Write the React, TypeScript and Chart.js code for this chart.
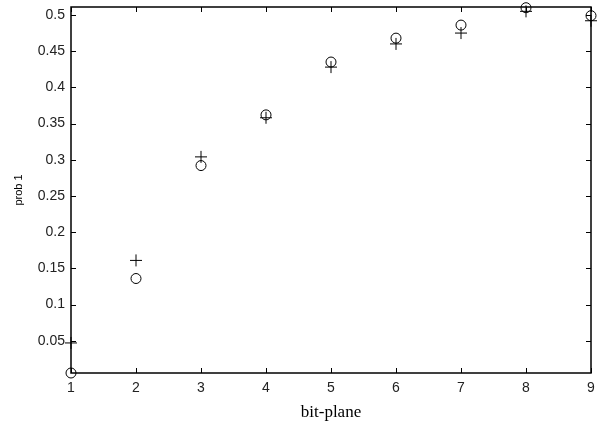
import React, { useEffect, useRef } from "react";
import { Chart, registerables } from "chart.js";

Chart.register(...registerables);

const bitPlanes = [1, 2, 3, 4, 5, 6, 7, 8, 9];
const circleValues = [0.0055, 0.136, 0.292, 0.362, 0.435, 0.468, 0.486, 0.51, 0.499];
const plusValues = [0.047, 0.161, 0.304, 0.358, 0.428, 0.46, 0.475, 0.505, 0.492];
const yTickValues = [0.05, 0.1, 0.15, 0.2, 0.25, 0.3, 0.35, 0.4, 0.45, 0.5];
const xTickValues = [1, 2, 3, 4, 5, 6, 7, 8, 9];

const tickPlugin = {
  id: "inwardTicks",
  afterDatasetsDraw(chart: any) {
    const { ctx, chartArea, scales } = chart;
    const { left, right, top, bottom } = chartArea;
    ctx.save();
    ctx.strokeStyle = "#000";
    ctx.lineWidth = 1;
    const len = 5;
    ctx.beginPath();
    xTickValues.forEach((v) => {
      const x = Math.round(scales.x.getPixelForValue(v)) + 0.5;
      ctx.moveTo(x, bottom);
      ctx.lineTo(x, bottom - len);
      ctx.moveTo(x, top);
      ctx.lineTo(x, top + len);
    });
    yTickValues.forEach((v) => {
      const y = Math.round(scales.y.getPixelForValue(v)) + 0.5;
      ctx.moveTo(left, y);
      ctx.lineTo(left + len, y);
      ctx.moveTo(right, y);
      ctx.lineTo(right - len, y);
    });
    ctx.stroke();
    ctx.lineWidth = 1.5;
    ctx.strokeRect(left, top, right - left, bottom - top);
    ctx.restore();
  },
};

export default function App() {
  const ref = useRef<HTMLCanvasElement>(null);
  useEffect(() => {
    const prevMargin = document.body.style.margin;
    document.body.style.margin = "0";
    const chart = new Chart(ref.current!, {
      type: "scatter",
      data: {
        datasets: [
          {
            label: "o",
            data: bitPlanes.map((x, i) => ({ x, y: circleValues[i] })),
            pointStyle: "circle",
            pointRadius: 5,
            borderColor: "#000",
            backgroundColor: "rgba(0,0,0,0)",
            borderWidth: 1,
            clip: false as any,
          },
          {
            label: "+",
            data: bitPlanes.map((x, i) => ({ x, y: plusValues[i] })),
            pointStyle: "cross",
            pointRadius: 6,
            borderColor: "#000",
            backgroundColor: "rgba(0,0,0,0)",
            borderWidth: 1,
            clip: false as any,
          },
        ],
      },
      plugins: [tickPlugin],
      options: {
        animation: false,
        responsive: false,
        layout: { padding: { top: 6, right: 20, left: 0, bottom: 0 } },
        plugins: { legend: { display: false }, tooltip: { enabled: false } },
        scales: {
          x: {
            type: "linear",
            min: 1,
            max: 9,
            grid: { display: false, drawTicks: false },
            border: { display: false },
            afterBuildTicks: (s: any) => {
              s.ticks = xTickValues.map((v) => ({ value: v }));
            },
            afterFit: (s: any) => {
              s.height = 50;
              s.paddingLeft = 0;
              s.paddingRight = 0;
            },
            ticks: {
              color: "#222",
              padding: 7,
              font: { family: "Liberation Sans, Arial", size: 14 },
              maxRotation: 0,
              callback: (v: any) => String(v),
            },
            title: {
              display: true,
              text: "bit-plane",
              color: "#000",
              padding: { top: 1, bottom: 0 },
              font: { family: "Liberation Serif, Times New Roman", size: 17 },
            },
          },
          y: {
            type: "linear",
            min: 0.0055,
            max: 0.511,
            grid: { display: false, drawTicks: false },
            border: { display: false },
            afterBuildTicks: (s: any) => {
              s.ticks = yTickValues.map((v) => ({ value: v }));
            },
            afterFit: (s: any) => {
              s.width = 71;
              s.paddingTop = 0;
              s.paddingBottom = 0;
            },
            ticks: {
              color: "#222",
              padding: 6,
              font: { family: "Liberation Sans, Arial", size: 14 },
              callback: (v: any) => String(Math.round(Number(v) * 100) / 100),
            },
            title: {
              display: true,
              text: "prob 1",
              color: "#000",
              padding: { top: 12, bottom: 0 },
              font: { family: "Liberation Sans, Arial", size: 11 },
            },
          },
        },
      },
    });
    return () => {
      chart.destroy();
      document.body.style.margin = prevMargin;
    };
  }, []);
  return (
    <div style={{ width: 611, height: 423, background: "#fff" }}>
      <canvas ref={ref} width={611} height={423} style={{ display: "block" }} />
    </div>
  );
}
